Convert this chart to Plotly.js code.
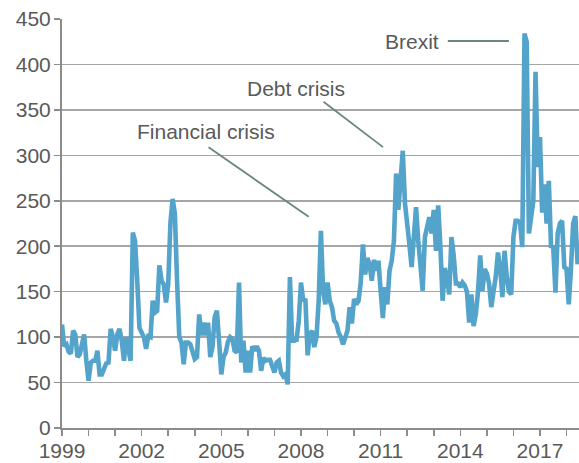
<!DOCTYPE html>
<html>
<head>
<meta charset="utf-8">
<script src="https://cdn.plot.ly/plotly-3.0.1.min.js"></script>
<style>
  html, body { margin: 0; padding: 0; background: #fff; }
  #chart { width: 579px; height: 463px; }
</style>
</head>
<body>
<div id="chart"></div>
<script>
// Monthly index values, January 1999 onwards
const startYear = 1999;
const uncertainty = [
  114, 90, 92, 84, 82, 107, 103, 78, 81, 90, 103, 74,
  52, 72, 74, 74, 85, 59, 59, 65, 71, 72, 109, 100,
  85, 103, 109, 96, 74, 100, 85, 74, 215, 206, 162, 110,
  105, 100, 87, 101, 100, 140, 127, 129, 179, 162, 158, 138,
  158, 226, 252, 236, 162, 100, 94, 70, 94, 94, 92, 85,
  76, 78, 125, 102, 116, 102, 116, 78, 89, 122, 129, 95,
  59, 78, 83, 95, 100, 98, 85, 83, 160, 72, 96, 61,
  85, 61, 90, 85, 90, 85, 63, 77, 74, 75, 75, 68,
  61, 72, 74, 61, 57, 59, 48, 166, 96, 96, 97, 118,
  160, 140, 142, 80, 103, 107, 89, 100, 140, 217, 151, 136,
  160, 140, 133, 118, 115, 105, 100, 92, 100, 107, 133, 115,
  142, 136, 140, 160, 202, 169, 187, 180, 162, 185, 173, 184,
  151, 121, 155, 136, 173, 184, 206, 280, 240, 276, 305, 247,
  228, 202, 177, 210, 243, 206, 180, 151, 210, 222, 232, 214,
  240, 195, 245, 200, 140, 176, 165, 147, 210, 190, 159, 159,
  155, 160, 157, 150, 116, 147, 112, 125, 150, 190, 151, 175,
  170, 159, 133, 150, 166, 193, 177, 144, 195, 166, 150, 147,
  210, 228, 228, 226, 199, 434, 425, 214, 236, 250, 392, 287,
  320, 237, 268, 225, 272, 200, 199, 149, 214, 225, 228, 177,
  175, 136, 175, 225, 233, 180
];
const yearTicks = [1999, 2002, 2005, 2008, 2011, 2014, 2017];
const eventLabels = ["Financial crisis", "Debt crisis", "Brexit"];

const xs = uncertainty.map((v, i) => startYear + i / 12);

const tickColor = "#595959";
const gridColor = "#a6a6a6";
const axisColor = "#8c8c8c";
const leaderColor = "#6a8878";
const font = { family: "Liberation Sans, Arial, sans-serif", size: 21, color: tickColor };

const trace = {
  x: xs, y: uncertainty, type: "scatter", mode: "lines",
  line: { color: "#53a3cb", width: 4.6 },
  hoverinfo: "skip"
};

const layout = {
  width: 579, height: 463,
  margin: { l: 62, r: 0, t: 19, b: 35 },
  paper_bgcolor: "#fff", plot_bgcolor: "#fff",
  showlegend: false,
  font: font,
  xaxis: {
    range: [1999, 2018.47],
    tickmode: "array", tickvals: yearTicks, ticktext: yearTicks.map(String),
    ticks: "outside", ticklen: 6, tickwidth: 1.5, tickcolor: axisColor,
    ticklabelstandoff: -3,
    minor: { tickmode: "linear", tick0: 1999, dtick: 1, ticks: "outside", ticklen: 6, tickwidth: 1.5, tickcolor: axisColor, showgrid: false },
    showgrid: false, zeroline: false,
    showline: true, linecolor: axisColor, linewidth: 2,
    tickfont: font, fixedrange: true
  },
  yaxis: {
    range: [0, 450], tick0: 0, dtick: 50,
    ticks: "outside", ticklen: 6, tickwidth: 1.5, tickcolor: axisColor,
    ticklabelstandoff: -1,
    showgrid: true, gridcolor: gridColor, gridwidth: 1.6,
    zeroline: false,
    showline: true, linecolor: axisColor, linewidth: 2,
    tickfont: font, fixedrange: true
  },
  annotations: [
    { text: eventLabels[0], x: 2004.41, y: 326, xref: "x", yref: "y", showarrow: false, xanchor: "center", yanchor: "middle", font: font },
    { text: eventLabels[1], x: 2007.83, y: 374, xref: "x", yref: "y", showarrow: false, xanchor: "center", yanchor: "middle", font: font },
    { text: eventLabels[2], x: 2012.19, y: 425, xref: "x", yref: "y", showarrow: false, xanchor: "center", yanchor: "middle", font: font }
  ],
  shapes: [
    { type: "line", xref: "x", yref: "y", x0: 2004.52, y0: 308.8, x1: 2008.29, y1: 232.5, line: { color: leaderColor, width: 1.8 } },
    { type: "line", xref: "x", yref: "y", x0: 2008.85, y0: 359, x1: 2011.09, y1: 309, line: { color: leaderColor, width: 1.8 } },
    { type: "line", xref: "x", yref: "y", x0: 2013.53, y0: 425.8, x1: 2015.83, y1: 425.8, line: { color: leaderColor, width: 1.8 } }
  ]
};

Plotly.newPlot("chart", [trace], layout, { displayModeBar: false, staticPlot: true });
</script>
</body>
</html>
